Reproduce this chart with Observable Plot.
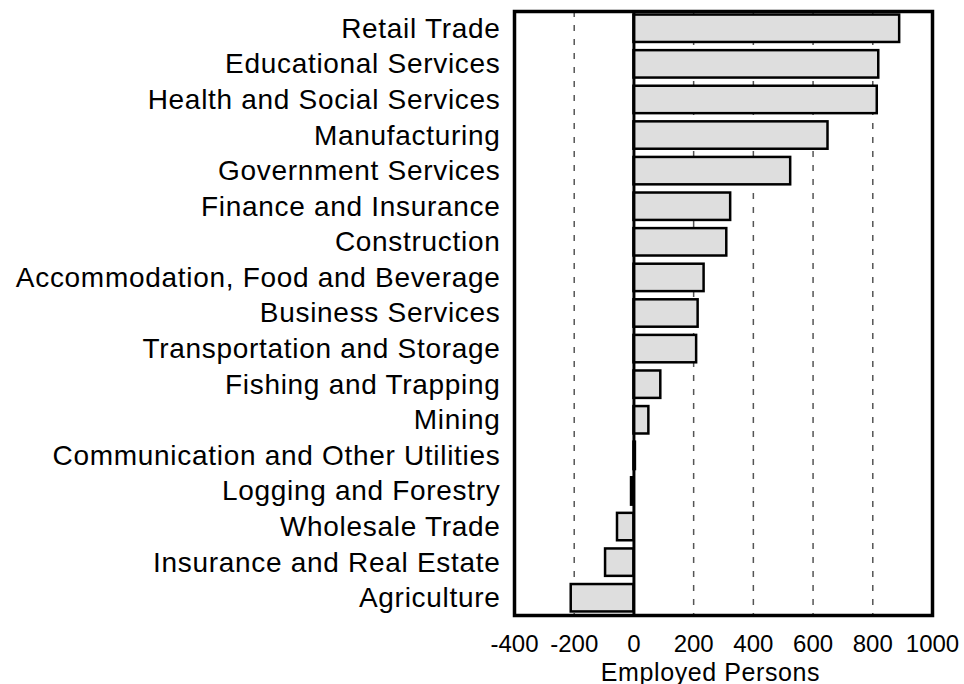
<!DOCTYPE html>
<html>
<head>
<meta charset="utf-8">
<script src="https://cdn.jsdelivr.net/npm/d3@7"></script>
<script src="https://cdn.jsdelivr.net/npm/@observablehq/plot@0.6"></script>
<style>
  html, body { margin: 0; padding: 0; background: #fff; }
  .yax text { letter-spacing: 0.7px; }
  .xlab text { letter-spacing: 0.6px; }
</style>
</head>
<body>
<div id="chart"></div>
<script>
const industries = [
  "Retail Trade",
  "Educational Services",
  "Health and Social Services",
  "Manufacturing",
  "Government Services",
  "Finance and Insurance",
  "Construction",
  "Accommodation, Food and Beverage",
  "Business Services",
  "Transportation and Storage",
  "Fishing and Trapping",
  "Mining",
  "Communication and Other Utilities",
  "Logging and Forestry",
  "Wholesale Trade",
  "Insurance and Real Estate",
  "Agriculture"
];
const employed = [890, 820, 815, 650, 525, 324, 311, 235, 215, 210, 90, 50, 5, -8, -55, -95, -210];
const xTicks = [-400, -200, 0, 200, 400, 600, 800, 1000];
const gridTicks = [-200, 200, 400, 600, 800];
const xLabel = "Employed Persons";

const data = industries.map((name, i) => ({name, value: employed[i]}));

const chart = Plot.plot({
  width: 964,
  height: 684,
  marginLeft: 514,
  marginRight: 32,
  marginTop: 11,
  marginBottom: 69,
  style: {fontFamily: "'Liberation Sans', Arial, Helvetica, sans-serif", fontSize: "24px", color: "#000", background: "#fff"},
  x: {domain: [-400, 1000]},
  y: {domain: industries, paddingInner: 0.23, paddingOuter: 0.1, round: false},
  marks: [
    Plot.ruleX(gridTicks, {stroke: "#555", strokeWidth: 1.5, strokeDasharray: "6,8"}),
    Plot.barX(data, {x: "value", y: "name", fill: "#dedede", stroke: "#000", strokeWidth: 2.5}),
    Plot.ruleX([0], {stroke: "#000", strokeWidth: 3}),
    Plot.axisX({ticks: xTicks, tickSize: 0, tickPadding: 19, label: null, tickFormat: d => String(d), fontSize: 24}),
    Plot.axisY({tickSize: 0, tickPadding: 14, label: null, fontSize: 28, className: "yax"}),
    Plot.text([xLabel], {frameAnchor: "bottom", dy: 65, dx: -13, fontSize: 25, fill: "#000", className: "xlab"}),
    Plot.frame({stroke: "#000", strokeWidth: 3.5})
  ]
});
document.getElementById("chart").appendChild(chart);
</script>
</body>
</html>
